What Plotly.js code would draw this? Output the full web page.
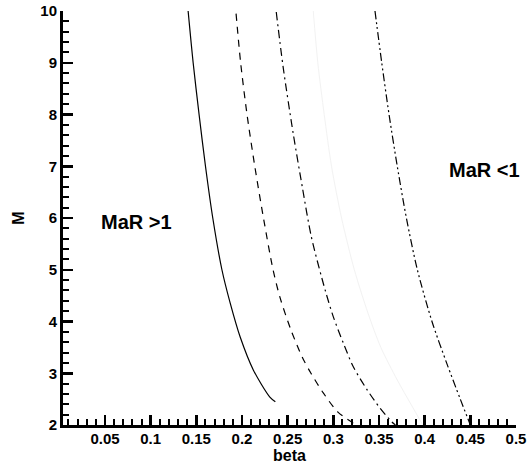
<!DOCTYPE html>
<html>
<head>
<meta charset="utf-8">
<script src="https://cdn.plot.ly/plotly-3.0.1.min.js"></script>
<style>html,body{margin:0;padding:0;background:#fff;}#chart{width:530px;height:466px;}</style>
</head>
<body>
<div id="chart"></div>
<script>
// Curve 1 (solid)
var beta1 = [0.141, 0.1465, 0.153, 0.160, 0.168, 0.178, 0.187, 0.198, 0.2125, 0.2305, 0.2365];
var M1    = [10.0, 9.0, 8.0, 7.0, 6.0, 5.0, 4.36, 3.7, 3.06, 2.54, 2.45];
// Curve 2 (dashed)
var beta2 = [0.1935, 0.1985, 0.2055, 0.214, 0.2235, 0.234, 0.2415, 0.2535, 0.266, 0.2755, 0.289, 0.305, 0.325];
var M2    = [9.95, 9.0, 8.0, 7.0, 6.0, 5.0, 4.47, 3.84, 3.31, 3.0, 2.62, 2.25, 2.0];
// Curve 3 (dash-dot)
var beta3 = [0.2375, 0.245, 0.256, 0.266, 0.276, 0.291, 0.300, 0.311, 0.322, 0.337, 0.351, 0.364, 0.368];
var M3    = [9.98, 8.92, 7.64, 6.6, 5.63, 4.61, 4.09, 3.58, 3.12, 2.68, 2.33, 2.06, 2.0];
// Curve 4 (faint)
var beta4 = [0.278, 0.283, 0.290, 0.298, 0.309, 0.323, 0.338, 0.352, 0.370, 0.385, 0.398];
var M4    = [10.0, 9.0, 8.0, 7.0, 6.0, 5.0, 4.16, 3.5, 2.87, 2.4, 2.0];
// Curve 5 (dash-dot-dot)
var beta5 = [0.3456, 0.353, 0.361, 0.370, 0.380, 0.392, 0.408, 0.424, 0.439, 0.450];
var M5    = [10.0, 9.0, 8.0, 7.0, 6.0, 5.0, 4.0, 3.2, 2.5, 2.0];

var labelA = "MaR >1";
var labelB = "MaR <1";

var lineStyle = function(dash, color, w){ return {color: color, width: w, dash: dash, shape: 'spline', smoothing: 0.8}; };
var traces = [
  {x: beta1, y: M1, mode: 'lines', line: lineStyle('solid', '#000', 1.2)},
  {x: beta2, y: M2, mode: 'lines', line: lineStyle('7px,6px', '#000', 1.2)},
  {x: beta3, y: M3, mode: 'lines', line: lineStyle('8px,4px,2px,4px', '#000', 1.2)},
  {x: beta4, y: M4, mode: 'lines', line: lineStyle('solid', '#f2f2f2', 1)},
  {x: beta5, y: M5, mode: 'lines', line: lineStyle('8px,3px,2px,3px,2px,3px', '#000', 1.2)}
];

var tickFont = {family: 'Liberation Sans, Arial, sans-serif', size: 15, color: '#000', weight: 'bold'};
var layout = {
  width: 530, height: 466,
  margin: {l: 63, r: 14, t: 11, b: 41},
  paper_bgcolor: '#fff', plot_bgcolor: '#fff',
  showlegend: false,
  xaxis: {
    range: [0.004, 0.5], tick0: 0, dtick: 0.05, tickformat: '~g',
    ticks: 'inside', ticklen: 10, tickwidth: 2.5, tickcolor: '#000',
    minor: {dtick: 0.01, ticks: 'inside', ticklen: 6, tickwidth: 2, tickcolor: '#000', showgrid: false},
    showline: true, linewidth: 3, linecolor: '#000', mirror: false,
    showgrid: false, zeroline: false,
    tickfont: tickFont, ticklabelstandoff: -2,
    title: {text: 'beta', font: {family: 'Liberation Sans, Arial, sans-serif', size: 16, color: '#000', weight: 'bold'}, standoff: 3}
  },
  yaxis: {
    range: [2, 10], tick0: 2, dtick: 1,
    ticks: 'inside', ticklen: 10, tickwidth: 2.5, tickcolor: '#000',
    minor: {dtick: 0.2, ticks: 'inside', ticklen: 6, tickwidth: 2, tickcolor: '#000', showgrid: false},
    showline: true, linewidth: 3, linecolor: '#000', mirror: false,
    showgrid: false, zeroline: false,
    tickfont: tickFont, ticklabelstandoff: 0,
    title: {text: 'M', font: {family: 'Liberation Sans, Arial, sans-serif', size: 16, color: '#000', weight: 'bold'}, standoff: 12}
  },
  annotations: [
    {x: 0.084, y: 5.92, xref: 'x', yref: 'y', text: labelA, showarrow: false,
     font: {family: 'Liberation Sans, Arial, sans-serif', size: 20, color: '#000', weight: 'bold'}},
    {x: 0.4245, y: 6.93, xref: 'x', yref: 'y', text: labelB, showarrow: false, xanchor: 'left',
     font: {family: 'Liberation Sans, Arial, sans-serif', size: 20, color: '#000', weight: 'bold'}}
  ]
};
Plotly.newPlot('chart', traces, layout, {staticPlot: true, displayModeBar: false});
</script>
</body>
</html>
